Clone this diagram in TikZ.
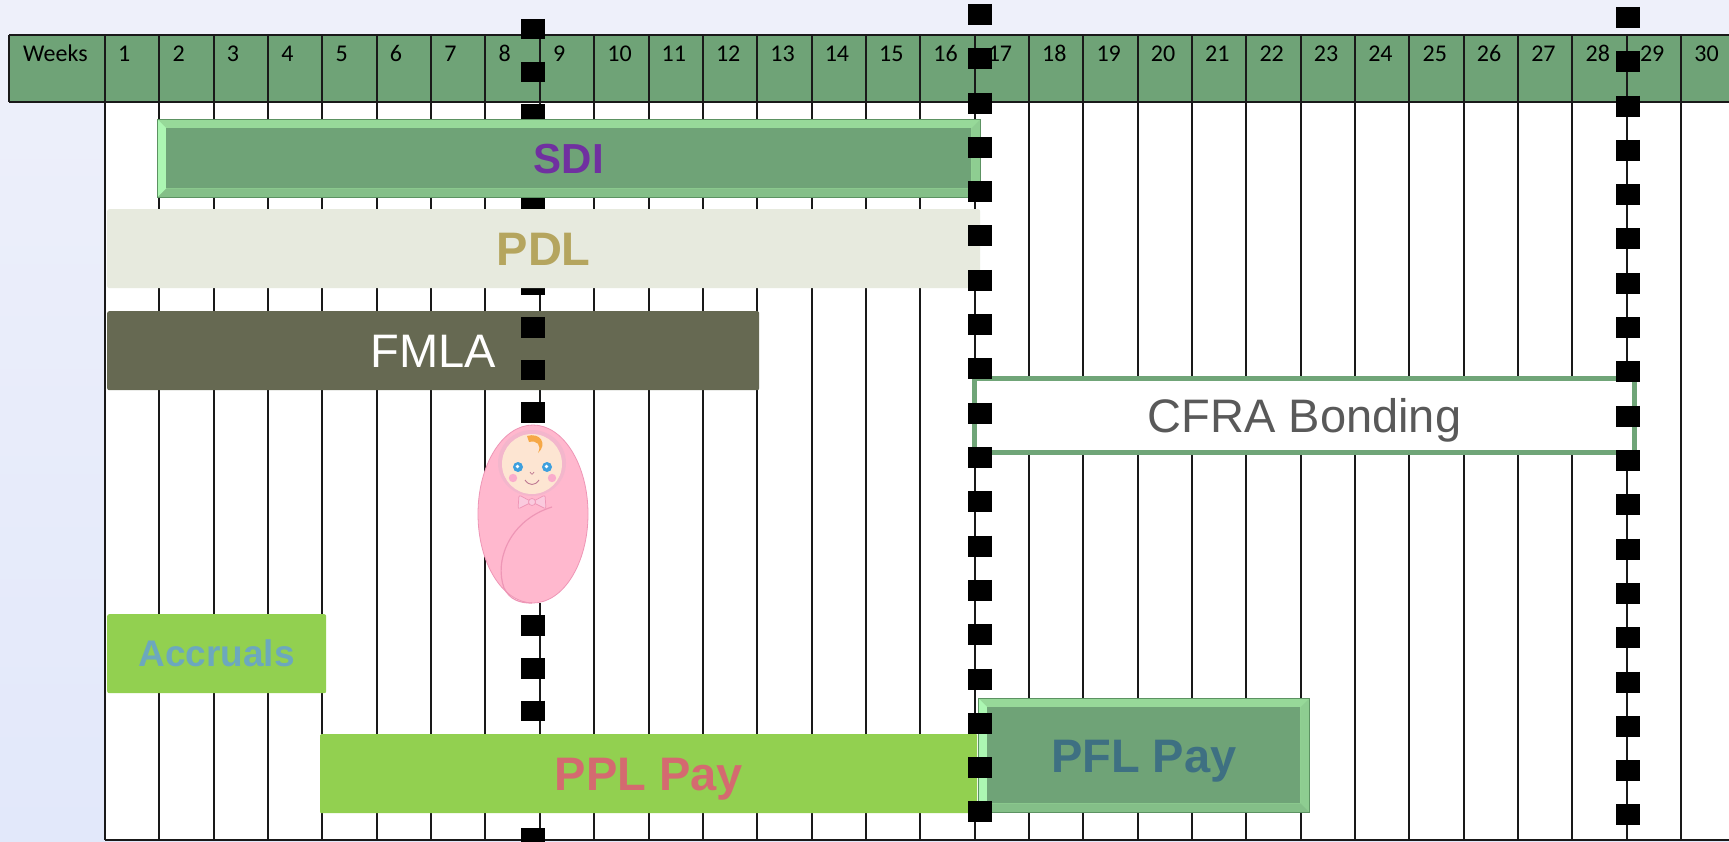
\documentclass[tikz,border=0pt]{standalone}
\usepackage{fontspec}
\setmainfont{Liberation Sans}
\newfontfamily\calfont{Carlito}
\usetikzlibrary{calc}
\definecolor{bgtop}{RGB}{238,240,250}
\definecolor{bgbot}{RGB}{226,232,250}
\definecolor{hdrgreen}{RGB}{111,163,119}
\definecolor{bevtop}{RGB}{151,217,153}
\definecolor{bevleft}{RGB}{172,246,178}
\definecolor{bevright}{RGB}{142,205,145}
\definecolor{bevbot}{RGB}{132,191,136}
\definecolor{bevline}{RGB}{92,146,98}
\definecolor{sdipurple}{RGB}{112,48,160}
\definecolor{pdlfill}{RGB}{231,234,222}
\definecolor{pdltext}{RGB}{181,165,94}
\definecolor{fmlafill}{RGB}{102,105,82}
\definecolor{cfraline}{RGB}{112,165,120}
\definecolor{cfratext}{RGB}{89,89,89}
\definecolor{accgreen}{RGB}{146,208,80}
\definecolor{acctext}{RGB}{108,168,190}
\definecolor{ppltext}{RGB}{212,106,112}
\definecolor{pfltext}{RGB}{62,112,130}
\definecolor{babypink}{RGB}{255,184,206}
\definecolor{babyline}{RGB}{238,150,182}
\definecolor{babyface}{RGB}{253,229,210}
\definecolor{babyhair}{RGB}{246,168,70}
\definecolor{babyeye}{RGB}{62,160,222}
\definecolor{babycheek}{RGB}{250,172,204}
\definecolor{bowpink}{RGB}{250,202,222}
\tikzset{
	gridline/.style = {line width=2pt,black!90},
	wknum/.style    = {anchor=west,inner sep=0pt,text height=15pt,text depth=0pt,
		font=\calfont\fontsize{24}{24}\selectfont},
	bar/.style      = {anchor=north west,inner sep=0pt,rounded corners=2pt,
		text depth=0pt,text height=33.7pt,
		font=\fontsize{47}{47}\selectfont\bfseries},
	bevel/.style    = {draw=bevline,line width=0.8pt,fill=bevtop,rounded corners=0pt,
		path picture={
			\coordinate (bnw) at (path picture bounding box.north west);
			\coordinate (bse) at (path picture bounding box.south east);
			\coordinate (bsw) at (bnw|-bse);
			\coordinate (bne) at (bse|-bnw);
			\coordinate (inw) at ([shift={(#1,#1)}]bnw);
			\coordinate (ise) at ([shift={(-#1,-#1)}]bse);
			\coordinate (isw) at ([shift={(#1,-#1)}]bsw);
			\coordinate (ine) at ([shift={(-#1,#1)}]bne);
			\fill[bevleft]  (bnw)--(inw)--(isw)--(bsw)--cycle;
			\fill[bevright] (bne)--(ine)--(ise)--(bse)--cycle;
			\fill[bevbot]   (bsw)--(isw)--(ise)--(bse)--cycle;
			\fill[hdrgreen] (inw) rectangle (ise);
	}},
	sqline/.style   = {line width=24pt,dash pattern=on 21pt off 23.3pt},
}

\begin{document}
\begin{tikzpicture}[x=1pt,y=-1pt]
	\path[use as bounding box] (0,0) rectangle (1729,842);
	\clip (0,0) rectangle (1729,842);
	\shade[top color=bgtop,bottom color=bgbot] (0,0) rectangle (1729,842);
	\def\colw{54.35}
	
	%% Grille des semaines
	\fill[white] (105,102) rectangle (1729,840);
	\fill[hdrgreen] (9,35) rectangle (1729,102);
	\foreach \k in {0,...,30}
	\draw[gridline] ({105+\k*\colw},35) -- ({105+\k*\colw},840);
	\draw[gridline] (9,35) -- (1729,35) (9,102) -- (1729,102)
	(9,35) -- (9,102) (105,840) -- (1729,840);
	\node[wknum] (wkhd) at (23,54.5) {Weeks};
	\foreach \k in {1,...,30}
	\node[wknum] (wk\k) at ({105+(\k-1)*\colw+13},54.5) {\k};
	
	%% Conges
	\node (fmla)[bar,fill=fmlafill,text=white,minimum width=652pt,minimum height=79pt,
	font=\fontsize{47}{47}\selectfont] at (107,311) {FMLA};
	
	% naissance, semaine 8
	\coordinate (birthtop) at (532.5,19);
	\coordinate (birthbot) at (532.5,842);
	\draw[sqline,dash pattern=on 20.5pt off 22.1pt] (birthtop) -- (birthbot);
	
	\node (sdi)[bar,bevel=9,text=sdipurple,minimum width=823pt,minimum height=78pt,
	text height=30.1pt,font=\fontsize{42}{42}\selectfont\bfseries] at (157,119) {SDI};
	\node (pdl)[bar,fill=pdlfill,text=pdltext,minimum width=873pt,minimum height=79pt]
	at (107,209) {PDL};
	\node (cfra)[draw=cfraline,line width=5pt,fill=white,text=cfratext,inner sep=0pt,
	minimum width=660pt,minimum height=73.5pt,text height=33.7pt,text depth=0pt,
	font=\fontsize{47}{47}\selectfont] at (1304.5,415.25) {CFRA Bonding};
	
	%% Bebe
	\fill[white] (487,423) rectangle (592,603);
	\filldraw[fill=babypink,draw=babyline,line width=0.8pt]
	(533,514) ellipse [x radius=55,y radius=89];
	\fill[babyline!70] (532,463) ellipse [x radius=34,y radius=33];
	\fill[babyface] (532,464) ellipse [x radius=30,y radius=30];
	\fill[babyhair] (527,436) .. controls (540,432) and (548,444) .. (538,453)
	.. controls (542,445) and (537,440) .. (529,442) -- cycle;
	\foreach \ex in {518,547}{
		\fill[babyeye] (\ex,467) circle (5);
		\fill[white] (\ex-0.5,466.5) circle (1.8);
	}
	\fill[babycheek] (513,478) circle (4.2) (552,478) circle (4.2);
	\draw[babyline!80!black,line width=0.7pt] (530,472) .. controls (532,475) .. (534,472);
	\draw[babyline!80!black,line width=0.9pt] (525,480) .. controls (529,486) and (535,486) .. (539,480);
	\filldraw[fill=bowpink,draw=babyline,line width=0.7pt,rounded corners=2pt]
	(532,502) -- (519,495) -- (518,509) -- cycle
	(532,502) -- (545,495) -- (546,509) -- cycle;
	\filldraw[fill=bowpink,draw=babyline,line width=0.7pt] (532,502) circle (3.5);
	\draw[babyline,line width=1.2pt] (552,507) .. controls (510,520) and (494,560) .. (504,588)
	.. controls (510,600) and (520,603) .. (532,603);
	
	%% Paie
	\node (accr)[bar,fill=accgreen,text=acctext,minimum width=219pt,minimum height=79pt,
	text height=26.5pt,font=\fontsize{37}{37}\selectfont\bfseries] at (107,614) {Accruals};
	\node (ppl)[bar,fill=accgreen,text=ppltext,minimum width=657pt,minimum height=79pt,
	rounded corners=1pt] at (320,734) {PPL Pay};
	\node (pfl)[bar,bevel=9,text=pfltext,minimum width=331pt,minimum height=114pt]
	at (978,698) {PFL Pay};
	
	%% Reperes semaines 16 et 28
	\coordinate (w16top) at (980,4);
	\coordinate (w16bot) at (980,842);
	\coordinate (w28top) at (1627.5,7);
	\coordinate (w28bot) at (1627.5,842);
	\draw[sqline] (w16top) -- (w16bot);
	\draw[sqline] (w28top) -- (w28bot);
\end{tikzpicture}
\end{document}
